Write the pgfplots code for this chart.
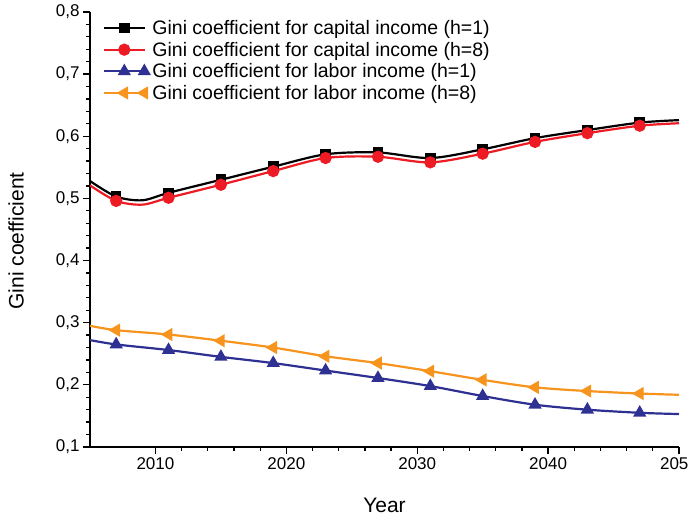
\documentclass[border=0pt]{standalone}
\usepackage{pgfplots}
\pgfplotsset{compat=1.18}
\usepackage{fontspec}
\setmainfont{Liberation Sans}

\definecolor{gred}{RGB}{237,28,36}
\definecolor{gblue}{RGB}{46,49,146}
\definecolor{gorange}{RGB}{247,148,29}

\begin{document}
\begin{tikzpicture}[x=1pt,y=1pt]
\begin{axis}[
    name=ax,
    scale only axis,
    width=589pt, height=435pt,
    xmin=2005, xmax=2050,
    ymin=0.1, ymax=0.8,
    axis lines*=left,
    axis line style={line width=1.3pt},
    xtick={2010,2020,2030,2040,2050},
    xticklabels={2010,2020,2030,2040,2050},
    minor x tick num=4,
    ytick={0.1,0.2,0.3,0.4,0.5,0.6,0.7,0.8},
    minor y tick num=4,
    tick align=outside,
    major tick length=7pt,
    minor tick length=4pt,
    tick style={line width=1.3pt, black},
    ticklabel style={font=\fontsize{17}{20}\selectfont},
    /pgf/number format/assume math mode=true,
    /pgf/number format/use comma,
    /pgf/number format/fixed,
    /pgf/number format/precision=1,
    xticklabel style={/pgf/number format/1000 sep={}},
    xlabel={Year},
    ylabel={Gini coefficient},
    every axis x label/.style={at={(rel axis cs:0.5,0)}, yshift=-58pt, anchor=center,
        font=\fontsize{21}{24}\selectfont},
    every axis y label/.style={at={(rel axis cs:0,0.4736)}, xshift=-74pt, rotate=90, anchor=center,
        font=\fontsize{21}{24}\selectfont},
    legend cell align=left,
    legend style={at={(rel axis cs:0.0221,0.9838)}, anchor=north west, draw=none, fill=none,
        font=\fontsize{19.5}{22}\selectfont, row sep=4pt, inner sep=0pt,
        nodes={inner sep=1pt}},
    legend image code/.code={
        \draw[mark repeat=2, mark phase=2, line width=2.2pt, #1] plot coordinates {(0pt,0pt) (20pt,0pt) (40pt,0pt)};
        \path (0pt,0pt) (46pt,0pt);
    },
    every axis plot/.append style={line width=2.2pt, smooth, tension=0.5},
]
\addplot[black, mark=square*, mark size=4.2pt, mark indices={2,4,5,6,7,8,9,10,11,12,13}] coordinates {
(2005,0.528) (2007,0.503) (2009,0.497) (2011,0.509) (2015,0.530) (2019,0.551)
(2023,0.571) (2027,0.574) (2031,0.565) (2035,0.579) (2039,0.597) (2043,0.610)
(2047,0.622) (2050,0.626)};
\addlegendentry{Gini coefficient for capital income (h=1)}
\addplot[gred, mark=*, mark size=5pt, mark indices={2,4,5,6,7,8,9,10,11,12,13}] coordinates {
(2005,0.521) (2007,0.496) (2009,0.490) (2011,0.501) (2015,0.522) (2019,0.544)
(2023,0.565) (2027,0.567) (2031,0.558) (2035,0.572) (2039,0.591) (2043,0.605)
(2047,0.617) (2050,0.621)};
\addlegendentry{Gini coefficient for capital income (h=8)}
\addplot[gblue, mark=triangle*, mark size=5.5pt, mark indices={2,3,4,5,6,7,8,9,10,11,12}] coordinates {
(2005,0.272) (2007,0.265) (2011,0.256) (2015,0.245) (2019,0.235) (2023,0.223)
(2027,0.211) (2031,0.198) (2035,0.182) (2039,0.168) (2043,0.160) (2047,0.155)
(2050,0.153)};
\addlegendentry{Gini coefficient for labor income (h=1)}
\addplot[gorange, mark=triangle*, mark size=5.5pt, mark options={rotate=90}, mark indices={2,3,4,5,6,7,8,9,10,11,12}] coordinates {
(2005,0.295) (2007,0.288) (2011,0.281) (2015,0.271) (2019,0.260) (2023,0.246)
(2027,0.235) (2031,0.222) (2035,0.208) (2039,0.196) (2043,0.190) (2047,0.186)
(2050,0.184)};
\addlegendentry{Gini coefficient for labor income (h=8)}
\end{axis}
\pgfresetboundingbox
\path[use as bounding box] ([xshift=-90pt,yshift=-74pt]ax.south west) rectangle ([xshift=9pt,yshift=12pt]ax.north east);
\end{tikzpicture}
\end{document}
